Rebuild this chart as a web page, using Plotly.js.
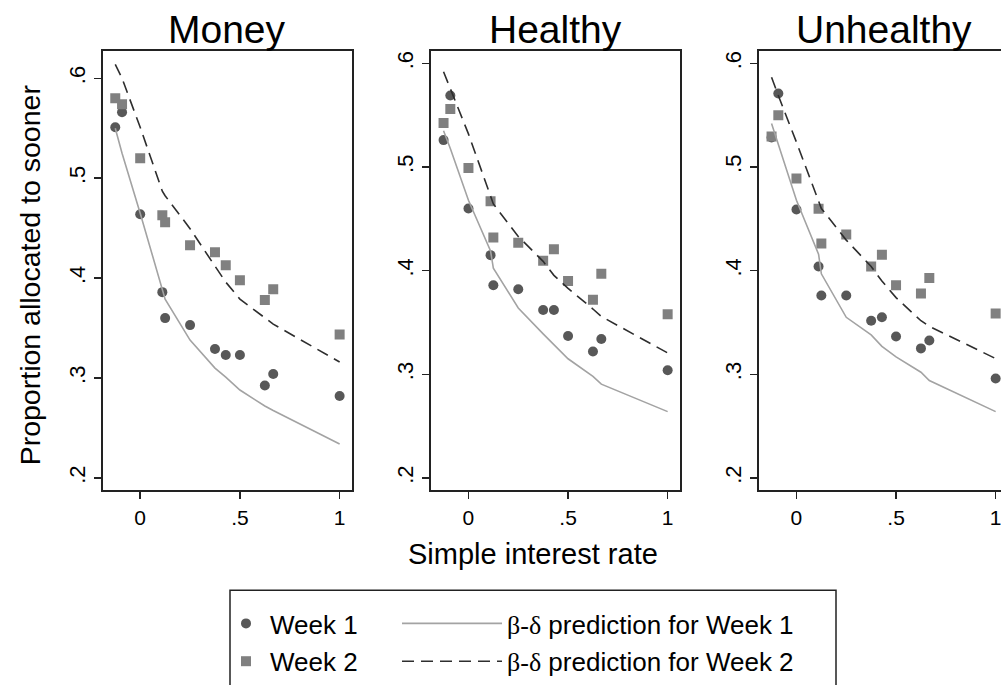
<!DOCTYPE html>
<html>
<head>
<meta charset="utf-8">
<script src="https://cdn.plot.ly/plotly-3.0.1.min.js"></script>
<style>
html, body { margin: 0; padding: 0; overflow: hidden; background: #fff; }
#chart { width: 1010px; height: 685px; }
</style>
</head>
<body>
<div id="chart"></div>
<script>
// ---- data ----
const rates = [-0.125, -0.091, 0, 0.111, 0.125, 0.25, 0.375, 0.429, 0.5, 0.625, 0.667, 1.0];

const panelTitles = ['Money', 'Healthy', 'Unhealthy'];

const moneyWeek1 = [0.551, 0.566, 0.464, 0.386, 0.360, 0.353, 0.329, 0.323, 0.323, 0.2925, 0.304, 0.282];
const moneyWeek2 = [0.580, 0.574, 0.520, 0.463, 0.456, 0.433, 0.426, 0.413, 0.398, 0.378, 0.389, 0.3435];
const moneyPred1 = [0.550, 0.525, 0.465, 0.387, 0.379, 0.338, 0.310, 0.301, 0.288, 0.272, 0.2675, 0.234];
const moneyPred2 = [0.614, 0.600, 0.551, 0.487, 0.4825, 0.4495, 0.412, 0.396, 0.379, 0.360, 0.354, 0.316];

const healthyWeek1 = [0.526, 0.569, 0.460, 0.415, 0.386, 0.382, 0.362, 0.362, 0.337, 0.322, 0.334, 0.304];
const healthyWeek2 = [0.5425, 0.556, 0.499, 0.467, 0.432, 0.427, 0.4095, 0.4206, 0.390, 0.372, 0.397, 0.358];
const healthyPred1 = [0.535, 0.518, 0.468, 0.419, 0.4025, 0.364, 0.339, 0.3286, 0.315, 0.298, 0.2905, 0.264];
const healthyPred2 = [0.592, 0.5755, 0.532, 0.472, 0.4644, 0.433, 0.409, 0.3955, 0.383, 0.363, 0.3558, 0.3206];

const unhealthyWeek1 = [0.5286, 0.571, 0.459, 0.404, 0.376, 0.376, 0.3517, 0.355, 0.3365, 0.325, 0.3327, 0.296];
const unhealthyWeek2 = [0.5295, 0.550, 0.489, 0.4597, 0.4263, 0.435, 0.404, 0.4155, 0.386, 0.378, 0.393, 0.3587];
const unhealthyPred1 = [0.542, 0.522, 0.468, 0.416, 0.397, 0.355, 0.338, 0.327, 0.3168, 0.302, 0.294, 0.264];
const unhealthyPred2 = [0.5867, 0.569, 0.524, 0.4676, 0.460, 0.4295, 0.404, 0.390, 0.374, 0.3517, 0.3463, 0.3152];

const xTickVals = [0, 0.5, 1];
const xTickText = ['0', '.5', '1'];
const yTickVals = [0.2, 0.3, 0.4, 0.5, 0.6];
const yTickText = ['.2', '.3', '.4', '.5', '.6'];

const seriesNames = ['Week 1', 'Week 2',
  '<span style="font-family:Liberation Serif">β-δ</span> prediction for Week 1',
  '<span style="font-family:Liberation Serif">β-δ</span> prediction for Week 2'];

// ---- build ----
const W = 1010, H = 685;
const FONT = 'Liberation Sans, Arial, Helvetica, sans-serif';
const panels = [
  {w1: moneyWeek1, w2: moneyWeek2, p1: moneyPred1, p2: moneyPred2},
  {w1: healthyWeek1, w2: healthyWeek2, p1: healthyPred1, p2: healthyPred2},
  {w1: unhealthyWeek1, w2: unhealthyWeek2, p1: unhealthyPred1, p2: unhealthyPred2}
];
const xPix = [[102.7, 352], [431, 680], [759, 1008]];
const yPix = [52, 497];

const traces = [];
panels.forEach((p, i) => {
  const xa = i === 0 ? 'x' : 'x' + (i + 1);
  const ya = i === 0 ? 'y' : 'y' + (i + 1);
  const show = i === 0;
  traces.push({x: rates, y: p.w1, xaxis: xa, yaxis: ya, type: 'scatter', mode: 'markers',
    name: seriesNames[0], showlegend: show, legend: 'legend', legendgroup: 'a',
    marker: {symbol: 'circle', size: 10, color: '#585858'}});
  traces.push({x: rates, y: p.w2, xaxis: xa, yaxis: ya, type: 'scatter', mode: 'markers',
    name: seriesNames[1], showlegend: show, legend: 'legend', legendgroup: 'b',
    marker: {symbol: 'square', size: 10, color: '#808080'}});
  traces.push({x: rates, y: p.p1, xaxis: xa, yaxis: ya, type: 'scatter', mode: 'lines',
    name: seriesNames[2], showlegend: show, legend: 'legend2', legendgroup: 'c',
    line: {color: '#a3a3a3', width: 1.6}});
  traces.push({x: rates, y: p.p2, xaxis: xa, yaxis: ya, type: 'scatter', mode: 'lines',
    name: seriesNames[3], showlegend: show, legend: 'legend2', legendgroup: 'd',
    line: {color: '#2e2e2e', width: 1.6, dash: '12px,7px'}});
});

const yDomain = [1 - yPix[1] / H, 1 - yPix[0] / H];
const layout = {
  width: W, height: H,
  margin: {l: 0, r: 0, t: 0, b: 0},
  paper_bgcolor: '#fff', plot_bgcolor: '#fff',
  font: {family: FONT, color: '#000'},
  showlegend: true,
  annotations: [],
  shapes: [{type: 'rect', xref: 'paper', yref: 'paper',
    x0: 230 / W, x1: 836 / W, y0: 1 - 705 / H, y1: 1 - 598 / H,
    line: {color: '#222', width: 1.5}, fillcolor: 'rgba(0,0,0,0)'}],
  legend: {x: 222 / W, y: 1 - 608 / H, xanchor: 'left', yanchor: 'top',
    orientation: 'v', itemwidth: 38, tracegroupgap: 1, bgcolor: 'rgba(0,0,0,0)',
    font: {size: 26, family: FONT, color: '#000'}},
  legend2: {x: 397 / W, y: 1 - 608 / H, xanchor: 'left', yanchor: 'top',
    orientation: 'v', itemwidth: 100, tracegroupgap: 1, bgcolor: 'rgba(0,0,0,0)',
    font: {size: 26, family: FONT, color: '#000'}}
};

const yRanges = [[0.1875, 0.627], [0.1879, 0.6117], [0.1879, 0.6117]];
for (let i = 0; i < 3; i++) {
  const sfx = i === 0 ? '' : String(i + 1);
  layout['xaxis' + sfx] = {
    domain: [xPix[i][0] / W, xPix[i][1] / W], anchor: 'y' + sfx,
    range: [-0.188, 1.062], tickvals: xTickVals, ticktext: xTickText,
    ticks: 'outside', ticklen: 7, tickwidth: 1.5, tickcolor: '#222',
    showline: true, mirror: true, linecolor: '#222', linewidth: 2,
    showgrid: false, zeroline: false, tickfont: {size: 21, family: FONT, color: '#000'}
  };
  layout['yaxis' + sfx] = {
    domain: yDomain, anchor: 'x' + sfx,
    range: yRanges[i], tickvals: yTickVals, ticktext: yTickText, tickangle: -90,
    ticks: 'outside', ticklen: 7, tickwidth: 1.5, tickcolor: '#222',
    showline: true, mirror: true, linecolor: '#222', linewidth: 2,
    showgrid: false, zeroline: false, tickfont: {size: 22, family: FONT, color: '#000'}
  };
  layout.annotations.push({text: panelTitles[i], xref: 'paper', yref: 'paper',
    x: (xPix[i][0] + xPix[i][1]) / 2 / W, y: 1 - 30 / H, xanchor: 'center', yanchor: 'middle',
    showarrow: false, font: {size: 39, family: FONT, color: '#000'}});
}
layout.annotations.push({text: 'Proportion allocated to sooner', xref: 'paper', yref: 'paper',
  x: 30 / W, y: 1 - 279 / H, xanchor: 'center', yanchor: 'middle', textangle: -90,
  showarrow: false, font: {size: 28.5, family: FONT, color: '#000'}});
layout.annotations.push({text: 'Simple interest rate', xref: 'paper', yref: 'paper',
  x: 533 / W, y: 1 - 561 / H, xanchor: 'center', yanchor: 'middle',
  showarrow: false, font: {size: 29, family: FONT, color: '#000'}});

Plotly.newPlot('chart', traces, layout, {staticPlot: true, displayModeBar: false});
</script>
</body>
</html>
